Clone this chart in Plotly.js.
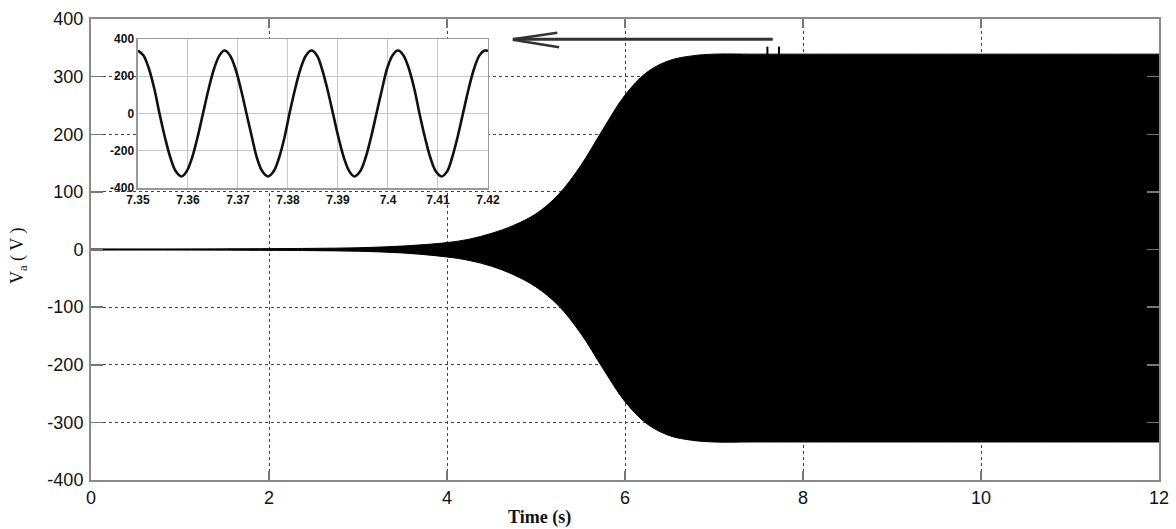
<!DOCTYPE html>
<html>
<head>
<meta charset="utf-8">
<script src="https://cdn.plot.ly/plotly-3.0.1.min.js"></script>
<style>
  html, body { margin: 0; padding: 0; background: #fff; }
  #chart { width: 1176px; height: 529px; }
</style>
</head>
<body>
<div id="chart"></div>
<script>
// Phase-a voltage build-up: envelope of the oscillating voltage (s, V)
const envTime  = [0, 1, 2, 2.5, 3, 3.5, 4, 4.25, 4.5, 4.75, 5, 5.25, 5.5, 5.75,
                  6, 6.25, 6.5, 6.75, 7, 7.5, 12];
const envUpper = [1, 1, 1.5, 2, 3, 6, 12, 18, 28, 42, 62, 95, 145, 208,
                  268, 308, 328, 336, 339, 339, 339];
const envLower = [-1, -1, -1.5, -2, -3, -6, -13, -19, -29, -44, -65, -97, -145, -206,
                  -264, -303, -323, -331, -334, -334, -334];

// Steady-state detail window (s, V)
const zoomTime = [7.3500, 7.3511, 7.3522, 7.3533, 7.3543, 7.3554, 7.3565, 7.3576,
                  7.3587, 7.3597, 7.3608, 7.3619, 7.3630, 7.3641, 7.3652, 7.3663,
                  7.3673, 7.3684, 7.3695, 7.3706, 7.3717, 7.3728, 7.3738, 7.3749,
                  7.3760, 7.3771, 7.3782, 7.3793, 7.3803, 7.3814, 7.3825, 7.3836,
                  7.3847, 7.3858, 7.3868, 7.3879, 7.3890, 7.3901, 7.3912, 7.3923,
                  7.3933, 7.3944, 7.3955, 7.3966, 7.3977, 7.3988, 7.3998, 7.4009,
                  7.4020, 7.4031, 7.4042, 7.4053, 7.4063, 7.4074, 7.4085, 7.4096,
                  7.4107, 7.4118, 7.4128, 7.4139, 7.4150, 7.4161, 7.4172, 7.4183,
                  7.4193, 7.4200];
const zoomVolt = [338, 312, 239, 129, 0, -129, -239, -312,
                  -338, -312, -239, -129, 0, 129, 239, 312,
                  338, 312, 239, 129, 0, -129, -239, -312,
                  -338, -312, -239, -129, 0, 129, 239, 312,
                  338, 312, 239, 129, 0, -129, -239, -312,
                  -338, -312, -239, -129, 0, 129, 239, 312,
                  338, 312, 239, 129, 0, -129, -239, -312,
                  -338, -312, -239, -129, 0, 129, 239, 312,
                  338, 336];

// Axis ticks
const mainXTicks = [0, 2, 4, 6, 8, 10, 12];
const mainYTicks = [-400, -300, -200, -100, 0, 100, 200, 300, 400];
const mainYText  = ['-400', '-300', '-200', '-100', '0', '100', '200', '300', '400'];
const zoomXTicks = [7.35, 7.36, 7.37, 7.38, 7.39, 7.40, 7.41, 7.42];
const zoomXText  = ['7.35', '7.36', '7.37', '7.38', '7.39', '7.4', '7.41', '7.42'];
const zoomYTicks = [-400, -200, 0, 200, 400];
const zoomYText  = ['-400', '-200', '0', '200', '400'];

// Start/end of the detail window marked on the waveform, and the pointer toward the inset
const windowMarks = [7.60, 7.73];
const pointer = {from: 7.66, to: 4.74, level: 365};

const traces = [
  {
    x: envTime, y: envLower, type: 'scatter', mode: 'lines',
    line: {color: '#000', width: 1, shape: 'spline', smoothing: 1.0},
    hoverinfo: 'skip', showlegend: false
  },
  {
    x: envTime, y: envUpper, type: 'scatter', mode: 'lines',
    fill: 'tonexty', fillcolor: '#000',
    line: {color: '#000', width: 1, shape: 'spline', smoothing: 1.0},
    hoverinfo: 'skip', showlegend: false
  },
  {
    x: zoomTime, y: zoomVolt, type: 'scatter', mode: 'lines',
    xaxis: 'x2', yaxis: 'y2',
    line: {color: '#111', width: 2.6, shape: 'spline', smoothing: 1.0},
    hoverinfo: 'skip', showlegend: false
  }
];

const shapes = [];
windowMarks.forEach(t => {
  shapes.push({type: 'line', xref: 'x', yref: 'y', x0: t, x1: t, y0: 337, y1: 352,
               line: {color: '#000', width: 2}});
});
shapes.push({type: 'line', xref: 'x', yref: 'y', x0: pointer.from, x1: pointer.to,
             y0: pointer.level, y1: pointer.level, line: {color: '#333', width: 3}});
shapes.push({type: 'line', xref: 'x', yref: 'y', x0: pointer.to, x1: pointer.to + 0.5,
             y0: pointer.level, y1: pointer.level + 11, line: {color: '#333', width: 2.5}});
shapes.push({type: 'line', xref: 'x', yref: 'y', x0: pointer.to, x1: pointer.to + 0.52,
             y0: pointer.level - 1, y1: pointer.level - 14, line: {color: '#333', width: 2.5}});

const tickFont = {family: 'Arial, "Liberation Sans", sans-serif', size: 18, color: '#111'};
const insetFont = {family: 'Arial, "Liberation Sans", sans-serif', size: 12, color: '#111', weight: 'bold'};

const layout = {
  width: 1176, height: 529,
  margin: {l: 91, r: 17, t: 19, b: 49, pad: 0},
  paper_bgcolor: '#fff', plot_bgcolor: '#fff',
  showlegend: false,
  xaxis: {
    domain: [0, 1], range: [0, 12], tickvals: mainXTicks,
    ticks: 'inside', ticklen: 9, tickwidth: 1.5, tickcolor: '#777',
    showline: true, linecolor: '#8a8a8a', linewidth: 2, mirror: 'ticks',
    showgrid: true, gridcolor: '#444', gridwidth: 1, griddash: '3px,3px',
    zeroline: false, tickfont: tickFont, anchor: 'y', fixedrange: true
  },
  yaxis: {
    domain: [0, 1], range: [-400, 400], tickvals: mainYTicks, ticktext: mainYText,
    ticks: 'inside', ticklen: 12, tickwidth: 1.5, tickcolor: '#777',
    showline: true, linecolor: '#8a8a8a', linewidth: 2, mirror: 'ticks',
    showgrid: true, gridcolor: '#444', gridwidth: 1, griddash: '3px,3px',
    zeroline: false, tickfont: tickFont, anchor: 'x', ticklabelstandoff: 2, fixedrange: true
  },
  xaxis2: {
    domain: [0.044, 0.3717], range: [7.35, 7.42], anchor: 'y2',
    tickvals: zoomXTicks, ticktext: zoomXText,
    ticks: '', showline: true, linecolor: '#999', linewidth: 1.5, mirror: true,
    showgrid: true, gridcolor: '#c8c8c8', gridwidth: 1,
    zeroline: false, tickfont: insetFont, ticklabelstandoff: 0, fixedrange: true
  },
  yaxis2: {
    domain: [0.6334, 0.9566], range: [-400, 400], anchor: 'x2',
    tickvals: zoomYTicks, ticktext: zoomYText,
    ticks: '', showline: true, linecolor: '#999', linewidth: 1.5, mirror: true,
    showgrid: true, gridcolor: '#c8c8c8', gridwidth: 1,
    zeroline: false, tickfont: insetFont, ticklabelstandoff: 0, fixedrange: true
  },
  shapes: shapes,
  annotations: [
    {
      text: 'Time (s)', xref: 'paper', yref: 'paper', x: 0.4204, y: -0.081,
      xanchor: 'center', yanchor: 'middle', showarrow: false,
      font: {family: '"Times New Roman", "Liberation Serif", serif', size: 18, color: '#111', weight: 'bold'}
    },
    {
      text: 'V<sub>a</sub> ( V )', xref: 'paper', yref: 'paper', x: -0.0674, y: 0.486,
      xanchor: 'center', yanchor: 'middle', showarrow: false, textangle: -90,
      font: {family: '"Times New Roman", "Liberation Serif", serif', size: 18, color: '#111'}
    }
  ]
};

Plotly.newPlot('chart', traces, layout, {staticPlot: true, displayModeBar: false});
</script>
</body>
</html>
